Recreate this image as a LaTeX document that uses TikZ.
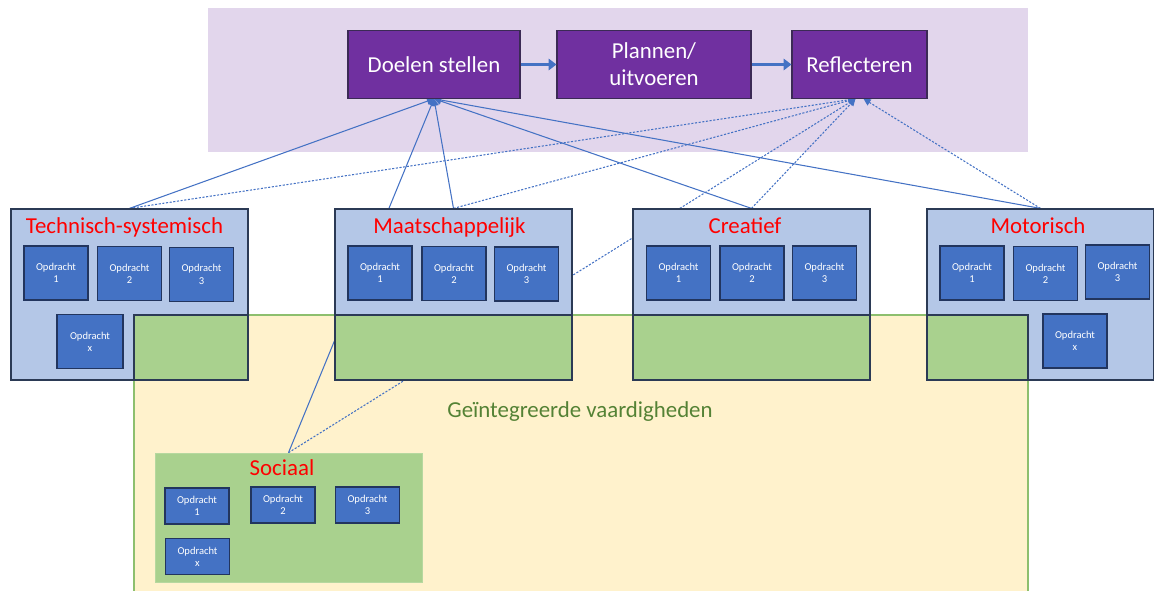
\documentclass[tikz,border=0pt]{standalone}
\usepackage{fontspec}
\setmainfont{Carlito}
\usepackage{tikz}
\usetikzlibrary{calc,arrows.meta}
\pgfdeclarelayer{back}
\pgfdeclarelayer{wires}
\pgfsetlayers{back,wires,main}
\definecolor{lavbg}{HTML}{E2D6EC}
\definecolor{stepfill}{HTML}{7030A0}
\definecolor{stepedge}{HTML}{3B2A55}
\definecolor{linkblue}{HTML}{4472C4}
\definecolor{catfill}{HTML}{B4C7E7}
\definecolor{catedge}{HTML}{2B3A55}
\definecolor{opfill}{HTML}{4472C4}
\definecolor{opedge}{HTML}{22355E}
\definecolor{intgreen}{HTML}{A9D18E}
\definecolor{intedge}{HTML}{8DBF6E}
\definecolor{intyellow}{HTML}{FFF2CC}
\definecolor{inttext}{HTML}{548235}
\definecolor{titlered}{HTML}{FF0000}
\tikzset{
  stepbox/.style={draw=stepedge, line width=0.6pt, fill=stepfill, text=white,
    minimum height=1.35cm, inner sep=0pt, align=center,
    font=\fontsize{13}{15.5}\selectfont},
  catbox/.style={draw=catedge, line width=0.7pt, fill=catfill,
    minimum width=4.74cm, minimum height=3.42cm, inner sep=0pt},
  cattitle/.style={text=titlered, anchor=base, font=\fontsize{13}{15}\selectfont},
  opbox/.style={draw=opedge, line width=0.7pt, fill=opfill, text=white,
    minimum width=1.28cm, minimum height=1.08cm, inner sep=0pt, align=center,
    font=\fontsize{6}{7}\selectfont},
  flow/.style={draw=linkblue, line width=1.8pt, -{Triangle[length=4.5pt,width=6.5pt]}},
  link/.style={draw=linkblue, line width=0.6pt, -{Triangle[length=4pt,width=4pt]}},
  dlink/.style={link, dash pattern=on 1.2pt off 0.9pt}
}
\begin{document}
\begin{tikzpicture}[x=0.02cm, y=-0.02cm]
  \useasboundingbox (0,0) rectangle (1154,591);

  % backgrounds
  \begin{pgfonlayer}{back}
    \fill[lavbg] (208,8) rectangle (1028,152);
    \fill[intyellow] (134,315) rectangle (1028,591);
    \draw[intedge, line width=0.6pt] (134,591) |- (1028,315) -- (1028,591);
  \end{pgfonlayer}

  % steps
  \node[stepbox, minimum width=3.44cm] (doel) at (434,64.5) {Doelen stellen};
  \node[stepbox, minimum width=3.88cm] (plan) at (654,64.5) {Plannen/\\uitvoeren};
  \node[stepbox, minimum width=2.70cm] (refl) at (859.5,64.5) {Reflecteren};
  \draw[flow] (doel) -- (plan);
  \draw[flow] (plan) -- (refl);

  % domains
  \node[catbox] (tech) at (129.5,294.5) {};
  \node[catbox] (maat) at (453.5,294.5) {};
  \node[catbox] (crea) at (751.5,294.5) {};
  \node[catbox, minimum width=4.54cm] (moto) at (1040.5,294.5) {};

  % overlap with geintegreerde vaardigheden
  \filldraw[fill=intgreen, draw=catedge, line width=0.7pt] (134,315) rectangle (248,380);
  \filldraw[fill=intgreen, draw=catedge, line width=0.7pt] (335,315) rectangle (572,380);
  \filldraw[fill=intgreen, draw=catedge, line width=0.7pt] (633,315) rectangle (870,380);
  \filldraw[fill=intgreen, draw=catedge, line width=0.7pt] (927,315) rectangle (1028,380);

  \node[cattitle] (techT) at (124.5,234) {Technisch-systemisch};
  \node[cattitle] (maatT) at (449.5,234) {Maatschappelijk};
  \node[cattitle] (creaT) at (745,234) {Creatief};
  \node[cattitle] (motoT) at (1038,234) {Motorisch};

  \node[opbox] (tech1) at (56,273) {Opdracht\\1};
  \node[opbox] (tech2) at (129.5,273.5) {Opdracht\\2};
  \node[opbox] (tech3) at (201.5,274.5) {Opdracht\\3};
  \node[opbox, minimum width=1.32cm] (techx) at (90,341.5) {Opdracht\\x};

  \node[opbox] (maat1) at (380,273) {Opdracht\\1};
  \node[opbox] (maat2) at (454,273.5) {Opdracht\\2};
  \node[opbox] (maat3) at (526.5,274) {Opdracht\\3};

  \node[opbox] (crea1) at (678.5,273) {Opdracht\\1};
  \node[opbox] (crea2) at (752,273) {Opdracht\\2};
  \node[opbox] (crea3) at (824.5,273) {Opdracht\\3};

  \node[opbox] (moto1) at (972,273) {Opdracht\\1};
  \node[opbox] (moto2) at (1045.5,273.5) {Opdracht\\2};
  \node[opbox] (moto3) at (1117.5,272) {Opdracht\\3};
  \node[opbox] (motox) at (1075,341) {Opdracht\\x};

  \node[text=inttext, anchor=base, font=\fontsize{13}{15}\selectfont] (intT) at (580,418)
    {Geïntegreerde vaardigheden};

  % sociaal
  \node[fill=intgreen, draw=intgreen!85!white, minimum width=5.34cm, minimum height=2.58cm,
    inner sep=0pt] (soc) at (288.5,517.5) {};
  \node[cattitle] (socT) at (282,476) {Sociaal};
  \node[opbox, minimum height=0.72cm] (soc1) at (197,506) {Opdracht\\1};
  \node[opbox, minimum height=0.72cm] (soc2) at (283,505) {Opdracht\\2};
  \node[opbox, minimum height=0.72cm] (soc3) at (367.5,505) {Opdracht\\3};
  \node[opbox, minimum height=0.72cm] (socx) at (197.5,556.5) {Opdracht\\x};

  % links to the steps
  \coordinate (reflIn) at ($(refl.south)+(-4,0)$);
  \coordinate (reflIn2) at ($(refl.south)+(4,0)$);
  \begin{pgfonlayer}{wires}
    \draw[link] (tech.north) -- (doel.south);
    \draw[link] (soc.north) -- (doel.south);
    \draw[link] (maat.north) -- (doel.south);
    \draw[link] (crea.north) -- (doel.south);
    \draw[link] (moto.north) -- (doel.south);
    \draw[dlink] (tech.north) -- (reflIn);
    \draw[dlink] (maat.north) -- (reflIn);
    \draw[dlink] (soc.north) -- (reflIn);
    \draw[dlink] (crea.north) -- (reflIn);
    \draw[dlink] (moto.north) -- (reflIn2);
  \end{pgfonlayer}
\end{tikzpicture}
\end{document}
